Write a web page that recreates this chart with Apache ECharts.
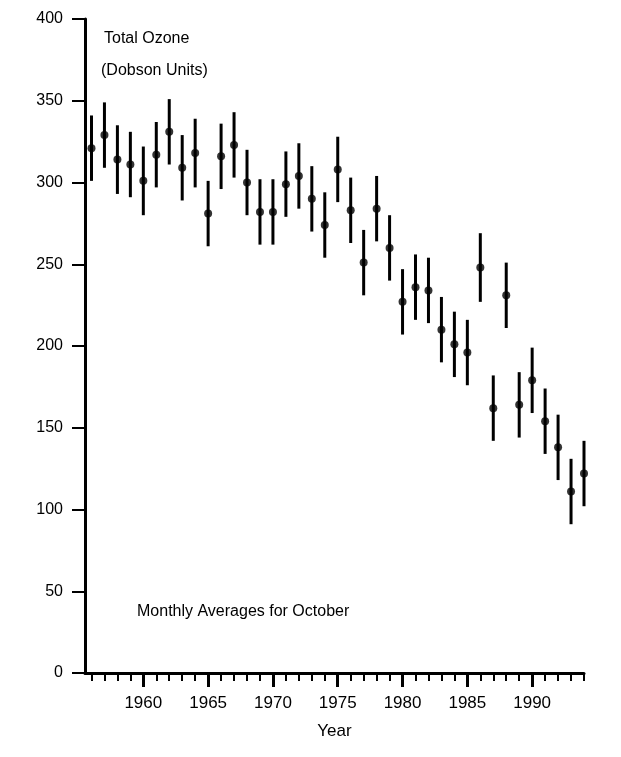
<!DOCTYPE html>
<html>
<head>
<meta charset="utf-8">
<script src="https://cdn.jsdelivr.net/npm/echarts@6/dist/echarts.min.js"></script>
<style>
html,body{margin:0;padding:0;background:#fff;}
#chart{width:621px;height:757px;}
</style>
</head>
<body>
<div id="chart"></div>
<script>
// Data
const years = [1956,1957,1958,1959,1960,1961,1962,1963,1964,1965,1966,1967,1968,1969,1970,1971,1972,1973,1974,1975,1976,1977,1978,1979,1980,1981,1982,1983,1984,1985,1986,1987,1988,1989,1990,1991,1992,1993,1994];
const ozone = [321,329,314,311,301,317,331,309,318,281,316,323,300,282,282,299,304,290,274,308,283,251,284,260,227,236,234,210,201,196,248,162,231,164,179,154,138,111,122];
const errHalf = [20,20,21,20,21,20,20,20,21,20,20,20,20,20,20,20,20,20,20,20,20,20,20,20,20,20,20,20,20,20,21,20,20,20,20,20,20,20,20];
const xLabelYears = [1960,1965,1970,1975,1980,1985,1990];
const yTicks = {min:0, max:400, interval:50};

const minorTickYears = [];
for (let y = 1956; y <= 1994; y++) minorTickYears.push(y);

const points = years.map((y,i)=>[y, ozone[i]]);
const bars = years.map((y,i)=>[y, ozone[i]-errHalf[i], ozone[i]+errHalf[i]]);

const FONT = '"Liberation Sans", Arial, Helvetica, sans-serif';
const INK = '#000';

const chart = echarts.init(document.getElementById('chart'), null, {renderer:'canvas'});
chart.setOption({
  animation:false,
  backgroundColor:'#fff',
  grid:{left:85, right:37, top:19, bottom:84, containLabel:false},
  xAxis:[{
    type:'value', min:1955.5, max:1994, position:'bottom', gridIndex:0,
    name:'Year', nameLocation:'middle', nameGap:50,
    nameTextStyle:{fontFamily:FONT, fontSize:17, color:INK},
    axisLine:{show:true, onZero:false, lineStyle:{color:INK, width:3}},
    axisTick:{show:true, customValues:minorTickYears, length:8, inside:false, lineStyle:{color:INK, width:2}},
    axisLabel:{show:true, customValues:xLabelYears, formatter:function(v){return String(v);}, fontFamily:FONT, fontSize:17, color:INK, margin:22},
    splitLine:{show:false}
  },{
    type:'value', min:1955.5, max:1994, position:'bottom', gridIndex:0, offset:0,
    axisLine:{show:false},
    axisTick:{show:true, customValues:xLabelYears, length:14, lineStyle:{color:INK, width:3}},
    axisLabel:{show:false},
    splitLine:{show:false}
  }],
  yAxis:{
    type:'value', min:yTicks.min, max:yTicks.max, interval:yTicks.interval,
    axisLine:{show:true, onZero:false, lineStyle:{color:INK, width:3}},
    axisTick:{show:true, length:13, lineStyle:{color:INK, width:2}},
    axisLabel:{fontFamily:FONT, fontSize:16, color:INK, margin:22},
    splitLine:{show:false}
  },
  graphic:[
    {type:'text', left:104, top:31, style:{text:'Total Ozone', font:'16px '+FONT, fill:INK}},
    {type:'text', left:101, top:63, style:{text:'(Dobson Units)', font:'16px '+FONT, fill:INK}},
    {type:'text', left:137, top:604, style:{text:'Monthly Averages for October', font:'16px '+FONT, fill:INK}}
  ],
  series:[
    {
      type:'custom', xAxisIndex:0, yAxisIndex:0, data:bars,
      renderItem:function(params, api){
        const x = api.value(0);
        const p1 = api.coord([x, api.value(2)]);
        const p2 = api.coord([x, api.value(1)]);
        return {type:'line', shape:{x1:p1[0], y1:p1[1], x2:p2[0], y2:p2[1]}, style:{stroke:INK, lineWidth:3}};
      },
      encode:{x:0, y:[1,2]}, z:2
    },
    {
      type:'scatter', xAxisIndex:0, yAxisIndex:0, data:points,
      symbol:'circle', symbolSize:8, itemStyle:{color:INK}, z:3
    }
  ]
});
</script>
</body>
</html>
